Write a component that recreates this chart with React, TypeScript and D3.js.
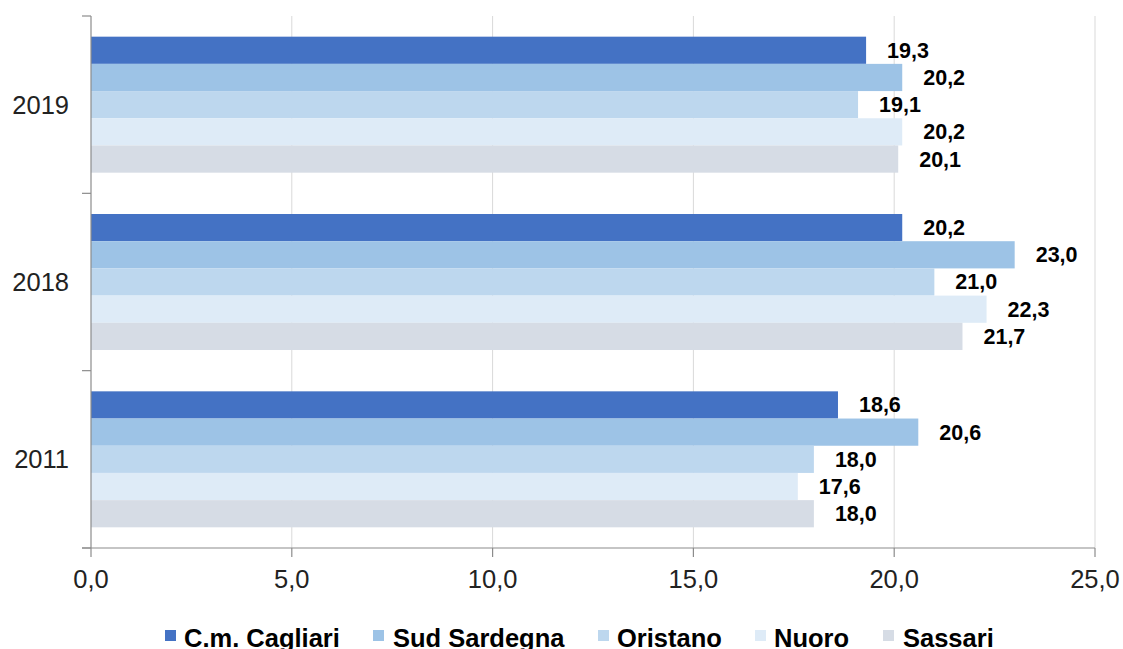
import React from "react";
import * as d3 from "d3";

const years = ["2019", "2018", "2011"];
const series = ["C.m. Cagliari", "Sud Sardegna", "Oristano", "Nuoro", "Sassari"];
const colors = ["#4472C4", "#9DC3E6", "#BDD7EE", "#DEEBF7", "#D6DCE5"];
const values2019 = [19.3, 20.2, 19.1, 20.2, 20.1];
const values2018 = [20.2, 23.0, 21.0, 22.3, 21.7];
const values2011 = [18.6, 20.6, 18.0, 17.6, 18.0];
const xTicks = [0, 5, 10, 15, 20, 25];

const valuesByYear: Record<string, number[]> = {
  "2019": values2019,
  "2018": values2018,
  "2011": values2011,
};

const W = 1123;
const H = 649;
const left = 91;
const right = 1095;
const top = 16;
const bottom = 548;
const font = "'Liberation Sans', Arial, sans-serif";

export default function App() {
  const x = d3.scaleLinear().domain([0, 25]).range([left, right]);
  const y0 = d3.scaleBand().domain(years).range([top, bottom]).padding(0);
  const y1 = d3
    .scaleBand()
    .domain(series)
    .range([0, y0.bandwidth()])
    .paddingInner(0)
    .paddingOuter(0.76);
  const fmt = (v: number) => v.toFixed(1).replace(".", ",");
  const boundaries = [top, ...years.map((yr) => (y0(yr) as number) + y0.bandwidth())];

  const legendSq = [165, 373, 598, 755, 883];
  const legendTx = [184, 393, 617, 774, 903];

  return (
    <svg
      width={W}
      height={H}
      style={{ position: "absolute", left: 0, top: 0, background: "#fff" }}
      fontFamily={font}
    >
      {/* gridlines */}
      {xTicks.slice(1).map((t) => (
        <line key={t} x1={x(t)} x2={x(t)} y1={top} y2={bottom} stroke="#D9D9D9" strokeWidth={1} />
      ))}
      {/* bars */}
      {years.map((yr) => (
        <g key={yr} transform={`translate(0,${y0(yr)})`}>
          {series.map((s, i) => {
            const v = valuesByYear[yr][i];
            const yy = y1(s) as number;
            return (
              <g key={s}>
                <rect x={x(0)} y={yy} width={x(v) - x(0)} height={y1.bandwidth()} fill={colors[i]} />
                <text
                  x={x(v) + 21}
                  y={yy + y1.bandwidth() / 2 + 0.5}
                  dominantBaseline="central"
                  fontSize={21.5}
                  fontWeight="bold"
                  fill="#000"
                >
                  {fmt(v)}
                </text>
              </g>
            );
          })}
        </g>
      ))}
      {/* y axis */}
      <line x1={left} x2={left} y1={top} y2={bottom} stroke="#8C8C8C" strokeWidth={1.2} />
      {boundaries.map((b, i) => (
        <line key={i} x1={left - 9} x2={left} y1={b} y2={b} stroke="#8C8C8C" strokeWidth={1.2} />
      ))}
      {years.map((yr) => (
        <text
          key={yr}
          x={69}
          y={(y0(yr) as number) + y0.bandwidth() / 2}
          textAnchor="end"
          dominantBaseline="central"
          fontSize={25.5}
          fill="#222"
        >
          {yr}
        </text>
      ))}
      {/* x axis */}
      <line x1={left - 9} x2={right} y1={bottom} y2={bottom} stroke="#8C8C8C" strokeWidth={1.2} />
      {xTicks.map((t) => (
        <g key={t}>
          <line x1={x(t)} x2={x(t)} y1={bottom} y2={bottom + 9} stroke="#8C8C8C" strokeWidth={1.2} />
          <text
            x={x(t)}
            y={579}
            textAnchor="middle"
            dominantBaseline="central"
            fontSize={25.5}
            fill="#222"
          >
            {fmt(t)}
          </text>
        </g>
      ))}
      {/* legend */}
      {series.map((s, i) => (
        <g key={s}>
          <rect x={legendSq[i]} y={630} width={11} height={11} fill={colors[i]} />
          <text
            x={legendTx[i]}
            y={637.5}
            dominantBaseline="central"
            fontSize={25.5}
            fontWeight="bold"
            fill="#000"
          >
            {s}
          </text>
        </g>
      ))}
    </svg>
  );
}
